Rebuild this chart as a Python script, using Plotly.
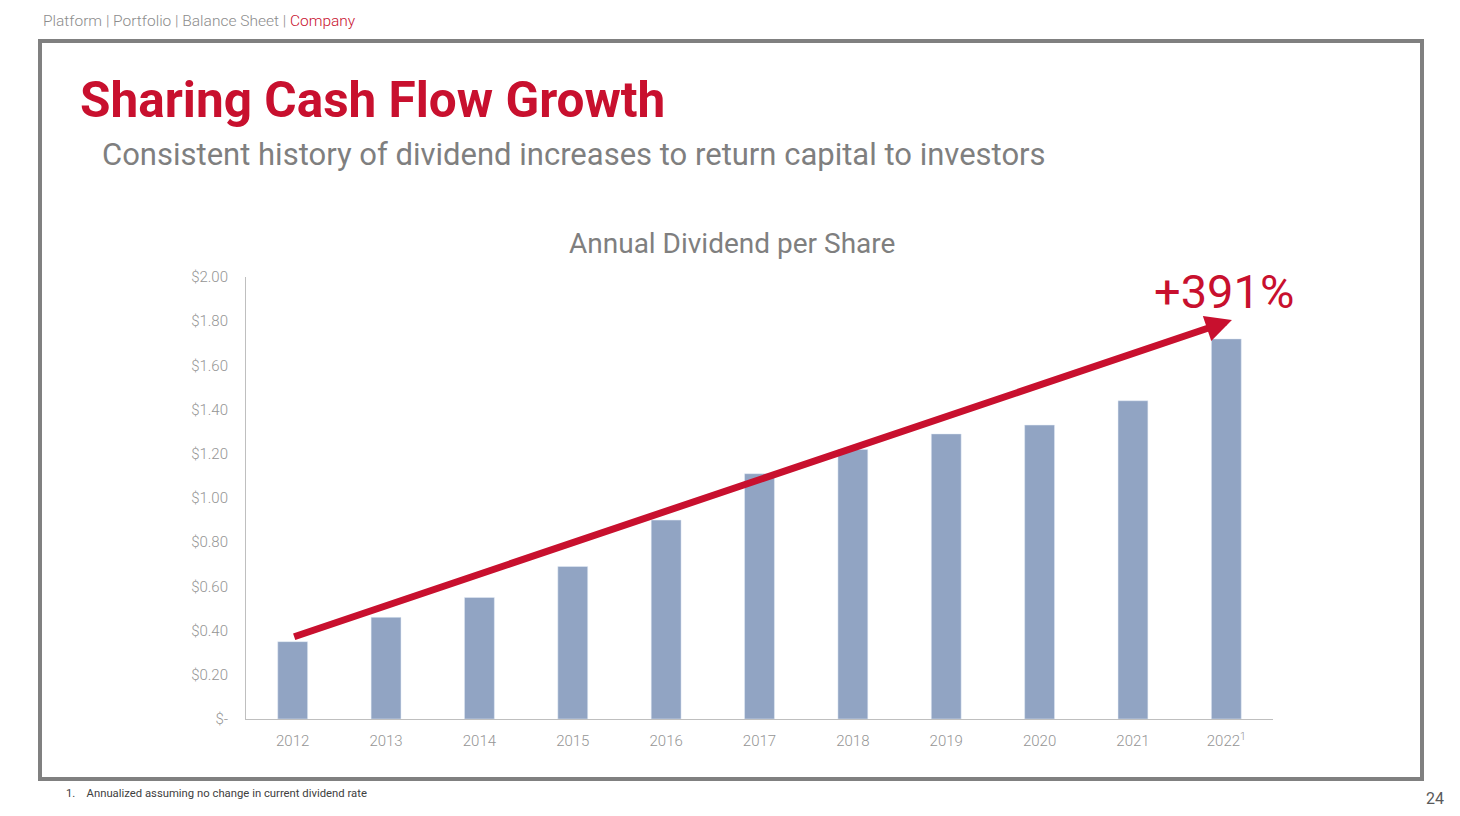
import plotly.graph_objects as go

# data
years = ["2012", "2013", "2014", "2015", "2016", "2017", "2018", "2019", "2020", "2021", "2022"]
year_labels = ["2012", "2013", "2014", "2015", "2016", "2017", "2018", "2019", "2020", "2021", "2022<sup>1</sup>"]
dividend = [0.35, 0.46, 0.55, 0.69, 0.90, 1.11, 1.22, 1.29, 1.33, 1.44, 1.72]
y_ticks = [0, 0.2, 0.4, 0.6, 0.8, 1.0, 1.2, 1.4, 1.6, 1.8, 2.0]
y_tick_labels = ["$-", "$0.20", "$0.40", "$0.60", "$0.80", "$1.00", "$1.20", "$1.40", "$1.60", "$1.80", "$2.00"]
# trend arrow: from the first bar to just past the last one
arrow_tail = (0, 0.37)
arrow_head = (10.06, 1.805)
growth_label = "+391%"

RED = "#C8102E"
GREY = "#7F7F7F"
BAR = "#91A4C3"
FONT = "Roboto"

W, H = 1460, 816
L, R, T, B = 246, 1273, 277, 719


def px(x):
    return (x - L) / (R - L)


def py(y):
    return (B - y) / (B - T)


fig = go.Figure()
fig.add_trace(go.Bar(x=years, y=dividend, marker_color=BAR, width=0.32, hoverinfo="x+y"))

fig.update_layout(
    width=W, height=H,
    margin=dict(l=L, r=W - R, t=T, b=H - B),
    paper_bgcolor="white", plot_bgcolor="white",
    showlegend=False,
    font=dict(family=FONT, color=GREY),
)
fig.update_xaxes(
    type="category", range=[-0.5, 10.5],
    tickvals=years, ticktext=year_labels,
    showline=True, linecolor="#BFBFBF", linewidth=1,
    showgrid=False, ticks="", ticklen=0,
    tickfont=dict(size=15, color="#959595", family=FONT, weight=300),
    ticklabelstandoff=8,
)
fig.update_yaxes(
    range=[0, 2.0], tickvals=y_ticks, ticktext=y_tick_labels,
    showline=True, linecolor="#BFBFBF", linewidth=1,
    showgrid=False, zeroline=False, ticks="",
    tickfont=dict(size=15, color="#959595", family=FONT, weight=300),
    ticklabelstandoff=14,
)

# slide frame
fig.add_shape(type="rect", xref="paper", yref="paper",
              x0=px(40), x1=px(1422), y0=py(779), y1=py(41),
              line=dict(color="#808080", width=4), fillcolor="rgba(0,0,0,0)", layer="below")

# trend arrow
fig.add_annotation(x=arrow_head[0], y=arrow_head[1], ax=arrow_tail[0], ay=arrow_tail[1],
                   xref="x", yref="y", axref="x", ayref="y",
                   showarrow=True, arrowhead=2, arrowsize=0.75, arrowwidth=7,
                   arrowcolor=RED, text="", standoff=0, startstandoff=0)
fig.add_annotation(x=px(1224), y=py(291), xref="paper", yref="paper", text=growth_label,
                   showarrow=False, font=dict(size=47, color=RED, family=FONT),
                   xanchor="center", yanchor="middle")

texts = [
    (41, 21, "Platform | Portfolio | Balance Sheet | <span style='color:%s'>Company</span>" % RED,
     15.5, "#8C8C8C", "left", 300),
    (78, 100, "<b>Sharing Cash Flow Growth</b>", 49.5, RED, "left", 400),
    (100, 154, "Consistent history of dividend increases to return capital to investors", 31, "#7F7F7F", "left", 400),
    (732, 243, "Annual Dividend per Share", 28, "#7F7F7F", "center", 400),
    (64, 793, "1.&nbsp;&nbsp;&nbsp;&nbsp;Annualized assuming no change in current dividend rate", 11.3, "#404040", "left", 400),
    (1446, 798, "24", 16, "#595959", "right", 400),
]
for x, y, t, size, color, anchor, weight in texts:
    fig.add_annotation(x=px(x), y=py(y), xref="paper", yref="paper", text=t, showarrow=False,
                       font=dict(size=size, color=color, family=FONT, weight=weight),
                       xanchor=anchor, yanchor="middle")

fig.write_html("out.html", config={"displayModeBar": False},
               post_script="document.body.style.margin='0';")
